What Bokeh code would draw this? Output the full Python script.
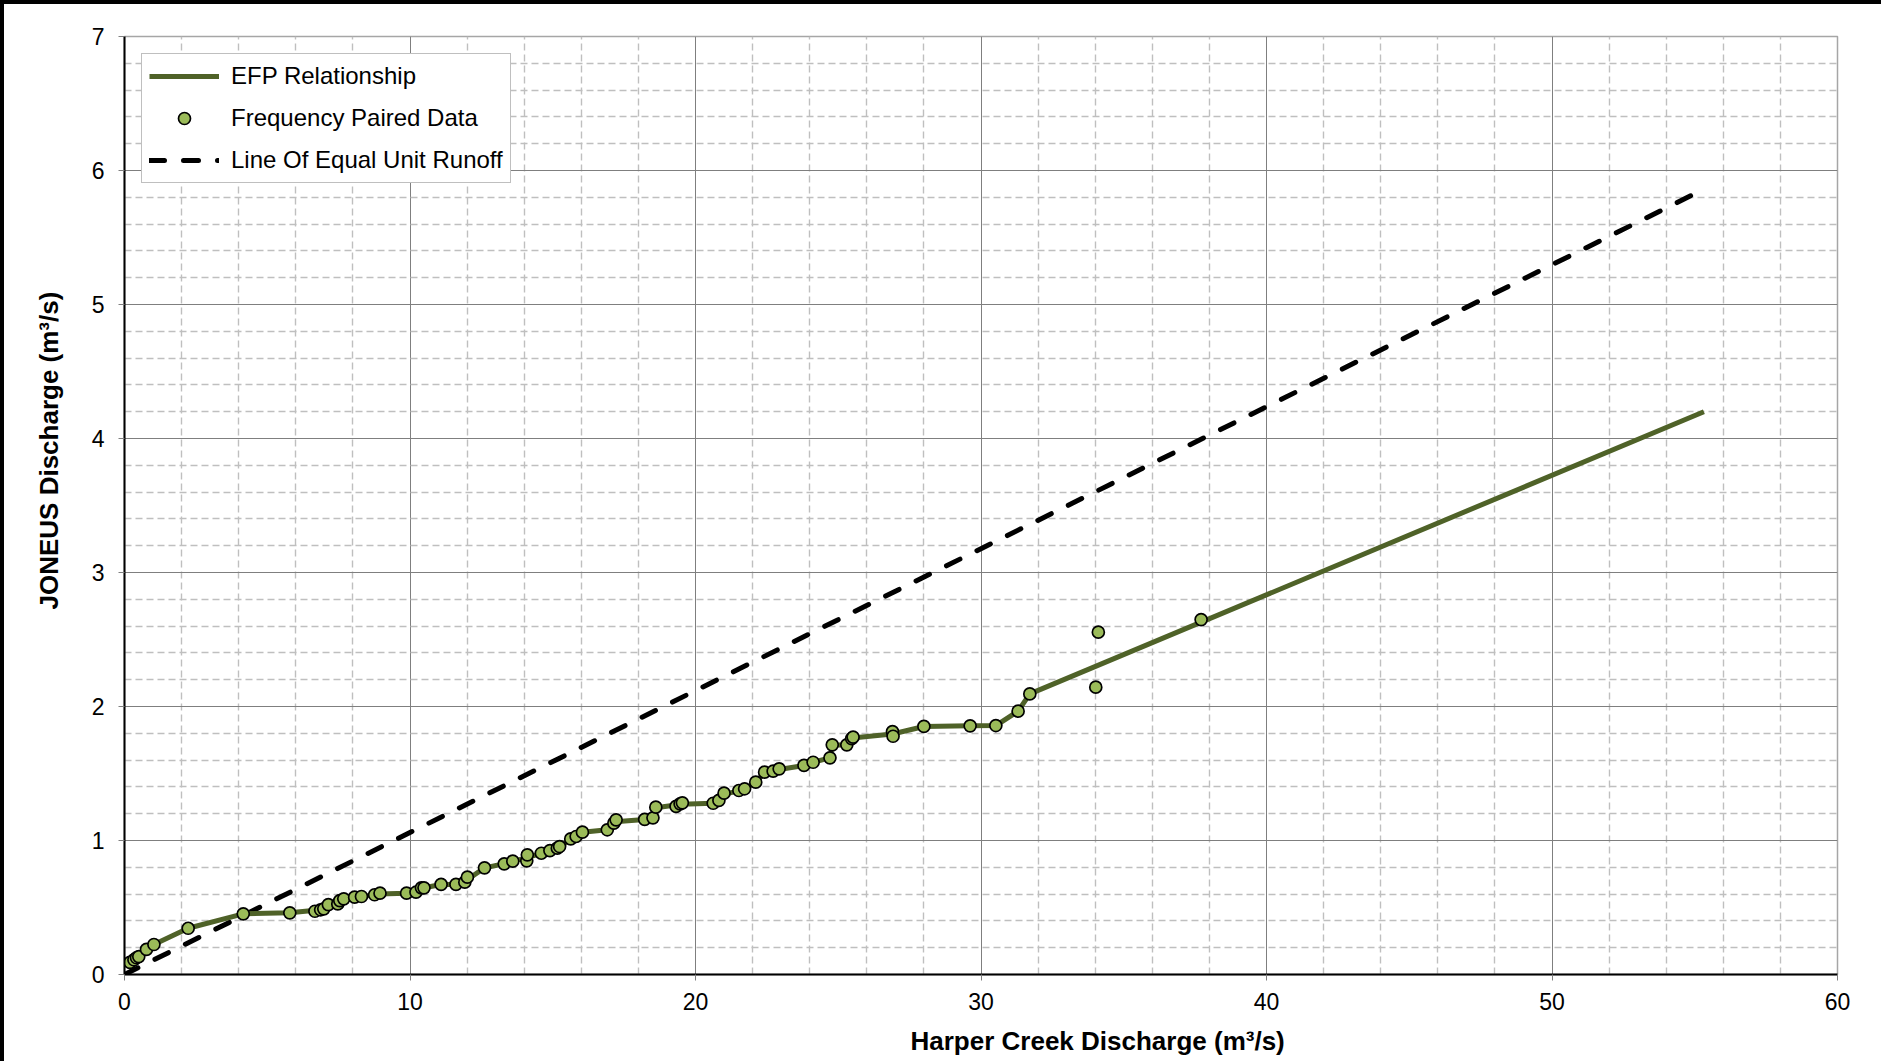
from bokeh.plotting import figure
from bokeh.models import FixedTicker, Legend, LegendItem, Range1d, Title
from bokeh.embed import file_html
from bokeh.resources import INLINE

# ---- data ----
paired_x = [0.19, 0.33, 0.42, 0.50, 0.77, 1.03, 2.23, 4.16, 5.79, 6.67, 6.87, 6.98, 7.14, 7.47, 7.54, 7.68,
            8.06, 8.30, 8.76, 8.95, 9.88, 10.21, 10.40, 10.49, 11.09, 11.61, 11.92, 12.01, 12.61, 13.30,
            13.60, 14.09, 14.11, 14.60, 14.90, 15.16, 15.24, 15.63, 15.82, 16.04, 16.91, 17.14, 17.22,
            18.22, 18.51, 18.61, 19.32, 19.46, 19.54, 20.62, 20.82, 21.00, 21.52, 21.72, 22.11, 22.42,
            22.72, 22.93, 23.80, 24.12, 24.71, 24.79, 25.30, 25.47, 25.52, 26.90, 26.92, 28.00, 29.62,
            30.52, 31.30, 31.71, 34.11, 34.02, 37.71]
paired_y = [0.090, 0.110, 0.125, 0.134, 0.187, 0.224, 0.345, 0.453, 0.460, 0.472, 0.483, 0.490, 0.522, 0.527,
            0.552, 0.565, 0.577, 0.582, 0.595, 0.607, 0.607, 0.614, 0.647, 0.647, 0.672, 0.672, 0.689,
            0.726, 0.796, 0.826, 0.846, 0.848, 0.893, 0.905, 0.925, 0.943, 0.955, 1.012, 1.030, 1.062,
            1.080, 1.129, 1.154, 1.157, 1.169, 1.249, 1.254, 1.274, 1.281, 1.278, 1.299, 1.353, 1.373,
            1.386, 1.435, 1.510, 1.517, 1.535, 1.560, 1.584, 1.617, 1.714, 1.714, 1.760, 1.772, 1.813,
            1.778, 1.851, 1.856, 1.858, 1.965, 2.094, 2.555, 2.144, 2.649]

efp_x = [0.05, 0.19, 0.42, 0.77, 1.03, 2.23, 4.16, 5.79, 6.87, 7.30, 7.68, 8.30, 8.90, 9.88, 10.21, 10.45,
         11.09, 11.61, 11.95, 12.61, 13.30, 13.60, 14.10, 14.60, 14.90, 15.24, 15.70, 16.04, 16.91, 17.18,
         18.22, 18.51, 18.61, 19.50, 20.62, 20.90, 21.10, 21.70, 22.11, 22.42, 22.93, 23.80, 24.12, 24.71,
         24.79, 25.30, 25.49, 26.90, 28.00, 29.62, 30.52, 31.30, 31.71, 55.32]
efp_y = [0.06, 0.09, 0.125, 0.187, 0.224, 0.345, 0.453, 0.46, 0.483, 0.51, 0.56, 0.58, 0.60, 0.607, 0.614,
         0.645, 0.672, 0.672, 0.70, 0.796, 0.826, 0.846, 0.87, 0.905, 0.925, 0.95, 1.02, 1.062, 1.08, 1.14,
         1.157, 1.169, 1.245, 1.27, 1.278, 1.31, 1.35, 1.38, 1.435, 1.505, 1.53, 1.56, 1.584, 1.617, 1.71,
         1.714, 1.765, 1.795, 1.851, 1.856, 1.858, 1.965, 2.094, 4.20]

equal_x = [0.0, 55.32]
equal_y = [0.0, 5.86]

x_major = [0, 10, 20, 30, 40, 50, 60]
y_major = [0, 1, 2, 3, 4, 5, 6, 7]
x_minor_step = 2
y_minor_step = 0.2

x_title = "Harper Creek Discharge (m³/s)"
y_title = "JONEUS Discharge (m³/s)"

FONT = "Liberation Sans"

p = figure(frame_width=1713, frame_height=938, output_backend="svg", toolbar_location=None,
           x_range=Range1d(0, 60), y_range=Range1d(0, 7),
           min_border_left=120, min_border_top=32, min_border_right=44, min_border_bottom=76)
p.styles = {"border-top": "4px solid black", "border-left": "4px solid black"}
p.background_fill_color = "white"
p.border_fill_color = "white"
p.outline_line_color = "#A6A6A6"
p.outline_line_width = 1.5

x_minor = [round(i * x_minor_step, 6) for i in range(int(60 / x_minor_step) + 1)]
x_minor = [v for v in x_minor if v not in x_major]
y_minor = [round(i * y_minor_step, 6) for i in range(int(7 / y_minor_step) + 1)]
y_minor = [v for v in y_minor if all(abs(v - m) > 1e-6 for m in y_major)]

p.xaxis.ticker = FixedTicker(ticks=x_major, minor_ticks=x_minor)
p.yaxis.ticker = FixedTicker(ticks=y_major, minor_ticks=y_minor)

for g in (p.xgrid, p.ygrid):
    g.grid_line_color = "#7F7F7F"
    g.grid_line_width = 1
    g.minor_grid_line_color = "#BFBFBF"
    g.minor_grid_line_width = 1.4
    g.minor_grid_line_dash = "7 4"

for ax in (p.xaxis, p.yaxis):
    ax.axis_line_color = "black"
    ax.axis_line_width = 2
    ax.major_tick_line_color = "#7F7F7F"
    ax.major_tick_out = 6
    ax.major_tick_in = 0
    ax.minor_tick_line_color = None
    ax.major_label_text_font = FONT
    ax.major_label_text_font_size = "23px"
    ax.major_label_text_color = "black"

p.xaxis.major_label_standoff = 12
p.yaxis.major_label_standoff = 14

# axis titles (off-centre in the original, so placed as side titles with offsets)
p.add_layout(Title(text=x_title, align="left", offset=786, standoff=26, vertical_align="top",
                   text_font=FONT, text_font_size="26px", text_font_style="bold",
                   text_color="black"), "below")
p.add_layout(Title(text=y_title, align="left", offset=365, standoff=50, text_font=FONT,
                   text_font_size="26px", text_font_style="bold", text_color="black"), "left")

r_efp = p.line(efp_x, efp_y, line_color="#4F6228", line_width=5, line_join="round")
r_eq = p.line(equal_x, equal_y, line_color="black", line_width=5, line_dash="15 19", line_cap="round")
r_pts = p.scatter(paired_x, paired_y, size=12, fill_color="#9BBB59", line_color="black", line_width=1.7)
p.renderers = [r_eq, r_efp, r_pts]

legend = Legend(items=[
    LegendItem(label="EFP Relationship", renderers=[r_efp]),
    LegendItem(label="Frequency Paired Data", renderers=[r_pts]),
    LegendItem(label="Line Of Equal Unit Runoff", renderers=[r_eq]),
], location="top_left")
legend.margin = 17
legend.padding = 7
legend.spacing = 12
legend.glyph_width = 70
legend.glyph_height = 30
legend.label_height = 30
legend.label_standoff = 12
legend.label_text_font = FONT
legend.label_text_font_size = "24px"
legend.label_text_color = "black"
legend.border_line_color = "#808080"
legend.border_line_width = 1
legend.background_fill_alpha = 1
p.add_layout(legend, "center")

open("out.html", "w").write(file_html(p, INLINE))
